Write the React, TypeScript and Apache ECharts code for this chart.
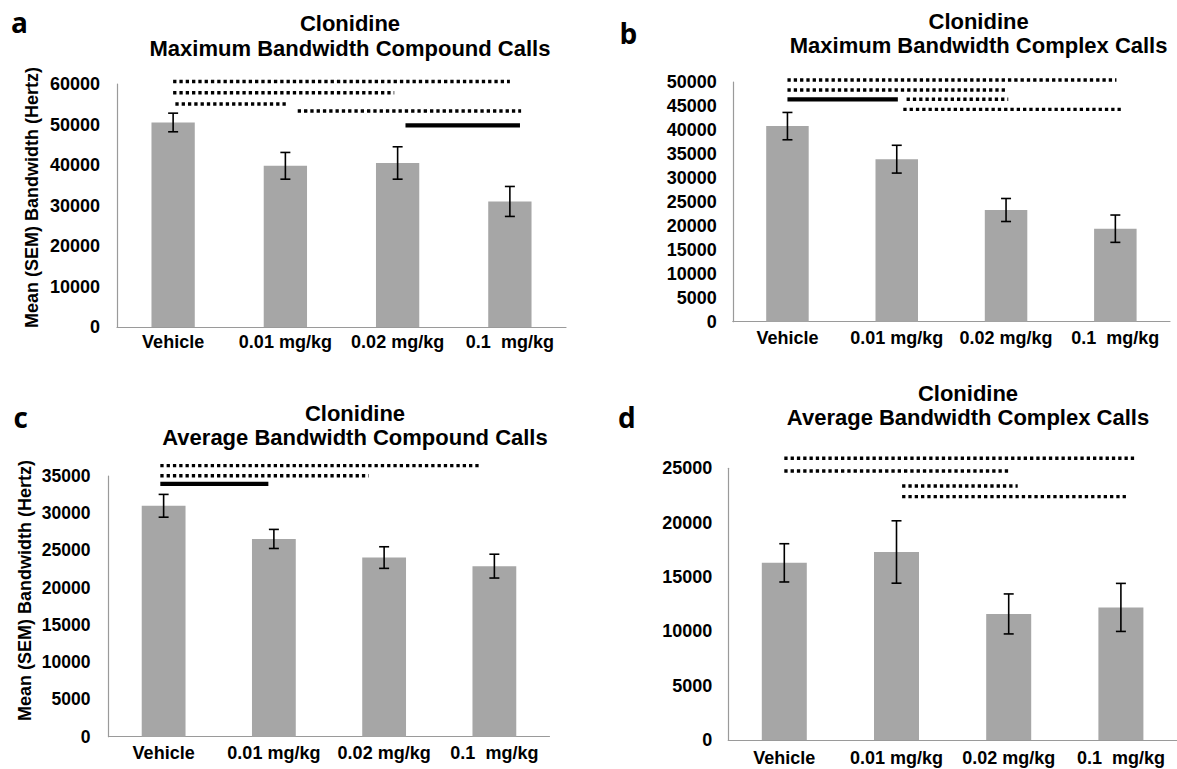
import React, { useEffect, useRef } from "react";
import * as echarts from "echarts";

// Treatment groups (x-axis categories)
const categories = ["Vehicle", "0.01 mg/kg", "0.02 mg/kg", "0.1  mg/kg"];

// Panel a: maximum bandwidth, compound calls (Hz)
const maxCompoundMean = [50500, 39800, 40500, 31000];
const maxCompoundSem = [2300, 3300, 4000, 3700];
// Panel b: maximum bandwidth, complex calls (Hz)
const maxComplexMean = [40800, 33900, 23300, 19400];
const maxComplexSem = [2850, 2900, 2400, 2850];
// Panel c: average bandwidth, compound calls (Hz)
const avgCompoundMean = [31000, 26550, 24050, 22900];
const avgCompoundSem = [1530, 1280, 1450, 1600];
// Panel d: average bandwidth, complex calls (Hz)
const avgComplexMean = [16300, 17300, 11600, 12200];
const avgComplexSem = [1760, 2870, 1840, 2210];

// Y-axis ranges: [max, step]
const maxCompoundAxis = [60000, 10000];
const maxComplexAxis = [50000, 5000];
const avgCompoundAxis = [35000, 5000];
const avgComplexAxis = [25000, 5000];

// Pairwise comparison brackets: from/to in category units, level in Hz;
// solid = solid bar, otherwise dotted
const maxCompoundSig = [
  { from: 0, to: 3, level: 60600, solid: false },
  { from: 0, to: 1.97, level: 57850, solid: false },
  { from: 0.02, to: 1.03, level: 55060, solid: false },
  { from: 1.11, to: 3.1, level: 53330, solid: false },
  { from: 2.07, to: 3.09, level: 49800, solid: true },
];
const maxComplexSig = [
  { from: 0, to: 3.01, level: 50420, solid: false },
  { from: 0, to: 1.99, level: 48330, solid: false },
  { from: 0, to: 1.01, level: 46390, solid: true },
  { from: 1.09, to: 2.02, level: 46390, solid: false },
  { from: 1.06, to: 3.05, level: 44300, solid: false },
];
const avgCompoundSig = [
  { from: -0.03, to: 2.88, level: 36390, solid: false },
  { from: -0.03, to: 1.86, level: 35040, solid: false },
  { from: -0.03, to: 0.95, level: 33930, solid: true },
];
const avgComplexSig = [
  { from: 0, to: 3.13, level: 25920, solid: false },
  { from: 0, to: 2.01, level: 24750, solid: false },
  { from: 1.05, to: 2.08, level: 23370, solid: false },
  { from: 1.05, to: 3.06, level: 22390, solid: false },
];

const panelTitles = [
  "Maximum Bandwidth Compound Calls",
  "Maximum Bandwidth Complex Calls",
  "Average Bandwidth Compound Calls",
  "Average Bandwidth Complex Calls",
];
const drugName = "Clonidine";
const panelLetters = ["a", "b", "c", "d"];
const yAxisTitle = "Mean (SEM) Bandwidth (Hertz)";

const FONT = "'Liberation Sans', Arial, sans-serif";
const BAR_COLOR = "#a6a6a6";
const AXIS_COLOR = "#9a9a9a";

// Layout of the four plot areas
const panels = [
  {
    mean: maxCompoundMean, sem: maxCompoundSem, axis: maxCompoundAxis, sig: maxCompoundSig,
    grid: { left: 117, top: 84, width: 449, height: 243 },
    barWidth: 43.3, tickSize: 18, labelMargin: 17, catMargin: 6,
    title: { x: 350, y1: 23.3, y2: 48.3 },
    letter: { x: 11, y: 22 },
    yName: { x: 32.4, y: 197.5 },
  },
  {
    mean: maxComplexMean, sem: maxComplexSem, axis: maxComplexAxis, sig: maxComplexSig,
    grid: { left: 732.8, top: 82, width: 437.2, height: 239.7 },
    barWidth: 42.5, tickSize: 18, labelMargin: 16, catMargin: 7.5,
    title: { x: 978.6, y1: 21.7, y2: 45 },
    letter: { x: 619.5, y: 33 },
    yName: null,
  },
  {
    mean: avgCompoundMean, sem: avgCompoundSem, axis: avgCompoundAxis, sig: avgCompoundSig,
    grid: { left: 108.5, top: 476, width: 441, height: 260.7 },
    barWidth: 43.8, tickSize: 17.5, labelMargin: 18, catMargin: 7.5,
    title: { x: 355, y1: 413.3, y2: 437.3 },
    letter: { x: 13.4, y: 417.4 },
    yName: { x: 25, y: 590.5 },
  },
  {
    mean: avgComplexMean, sem: avgComplexSem, axis: avgComplexAxis, sig: avgComplexSig,
    grid: { left: 728.2, top: 468.3, width: 452, height: 271.7 },
    barWidth: 45, tickSize: 18, labelMargin: 16, catMargin: 9,
    title: { x: 968, y1: 393.3, y2: 417.3 },
    letter: { x: 618, y: 417.4 },
    yName: null,
  },
];

function centeredText(x: number, y: number, text: string, font: string, extra: any = {}) {
  return {
    type: "text",
    x,
    y,
    ...extra,
    style: {
      text,
      font,
      fill: "#000",
      textAlign: "center",
      align: "center",
      textVerticalAlign: "middle",
      verticalAlign: "middle",
    },
  };
}

function buildOption() {
  const grid: any[] = [];
  const xAxis: any[] = [];
  const yAxis: any[] = [];
  const series: any[] = [];
  const graphic: any[] = [];

  panels.forEach((p, k) => {
    grid.push({ ...p.grid, containLabel: false });
    xAxis.push({
      type: "category",
      gridIndex: k,
      data: categories,
      axisTick: { show: false },
      axisLine: { lineStyle: { color: AXIS_COLOR, width: 1.2 } },
      axisLabel: {
        color: "#000",
        fontFamily: FONT,
        fontWeight: "bold",
        fontSize: 18,
        margin: p.catMargin,
        interval: 0,
      },
      splitLine: { show: false },
    });
    yAxis.push({
      type: "value",
      gridIndex: k,
      min: 0,
      max: p.axis[0],
      interval: p.axis[1],
      axisTick: { show: false },
      axisLine: { show: true, lineStyle: { color: AXIS_COLOR, width: 1.2 } },
      splitLine: { show: false },
      axisLabel: {
        color: "#000",
        fontFamily: FONT,
        fontWeight: "bold",
        fontSize: p.tickSize,
        margin: p.labelMargin,
        formatter: (v: number) => String(v),
      },
    });

    series.push({
      type: "bar",
      xAxisIndex: k,
      yAxisIndex: k,
      data: p.mean,
      barWidth: p.barWidth,
      itemStyle: { color: BAR_COLOR },
      z: 2,
    });

    // SEM error bars
    series.push({
      type: "custom",
      xAxisIndex: k,
      yAxisIndex: k,
      clip: false,
      z: 5,
      data: p.mean.map((m, i) => [i, m - p.sem[i], m + p.sem[i]]),
      encode: { x: 0, y: [1, 2] },
      renderItem: (params: any, api: any) => {
        const i = api.value(0);
        const lo = api.coord([i, api.value(1)]);
        const hi = api.coord([i, api.value(2)]);
        const x = hi[0];
        const cap = 5;
        const st = { stroke: "#000", lineWidth: 1.6 };
        return {
          type: "group",
          children: [
            { type: "line", shape: { x1: x, y1: hi[1], x2: x, y2: lo[1] }, style: st },
            { type: "line", shape: { x1: x - cap, y1: hi[1], x2: x + cap, y2: hi[1] }, style: st },
            { type: "line", shape: { x1: x - cap, y1: lo[1], x2: x + cap, y2: lo[1] }, style: st },
          ],
        };
      },
    });

    // Comparison brackets
    const sig = p.sig;
    series.push({
      type: "custom",
      xAxisIndex: k,
      yAxisIndex: k,
      clip: false,
      z: 6,
      data: sig.map((s) => [0, s.level]),
      encode: { x: 0, y: 1 },
      renderItem: (params: any, api: any) => {
        const s = sig[params.dataIndex];
        const c0 = api.coord([0, s.level]);
        const c1 = api.coord([1, s.level]);
        const step = c1[0] - c0[0];
        const x1 = c0[0] + step * s.from;
        const x2 = c0[0] + step * s.to;
        return {
          type: "line",
          shape: { x1, y1: c0[1], x2, y2: c0[1] },
          style: s.solid
            ? { stroke: "#000", lineWidth: 4.2, lineCap: "butt" }
            : { stroke: "#000", lineWidth: 3.4, lineDash: [3.3, 3], lineCap: "butt" },
        };
      },
    });

    // Titles
    graphic.push(centeredText(p.title.x, p.title.y1, drugName, `bold 22px ${FONT}`));
    graphic.push(centeredText(p.title.x, p.title.y2, panelTitles[k], `bold 22px ${FONT}`));
    // Panel letter
    graphic.push({
      type: "text",
      x: p.letter.x,
      y: p.letter.y,
      style: {
        text: panelLetters[k],
        font: `bold 28px 'Open Sans', sans-serif`,
        fill: "#000",
        textAlign: "left",
        align: "left",
        textVerticalAlign: "middle",
        verticalAlign: "middle",
      },
    });
    // Y-axis title
    if (p.yName) {
      graphic.push(
        centeredText(p.yName.x, p.yName.y, yAxisTitle, `bold 18px ${FONT}`, {
          rotation: Math.PI / 2,
        })
      );
    }
  });

  return {
    animation: false,
    backgroundColor: "#ffffff",
    grid,
    xAxis,
    yAxis,
    series,
    graphic,
  };
}

export default function App() {
  const ref = useRef<HTMLDivElement>(null);

  useEffect(() => {
    if (!ref.current) return;
    const chart = echarts.init(ref.current, undefined, { renderer: "svg" });
    chart.setOption(buildOption() as any);
    return () => {
      chart.dispose();
    };
  }, []);

  return (
    <div
      ref={ref}
      style={{
        position: "absolute",
        left: 0,
        top: 0,
        width: 1177,
        height: 769,
        background: "#fff",
      }}
    />
  );
}
